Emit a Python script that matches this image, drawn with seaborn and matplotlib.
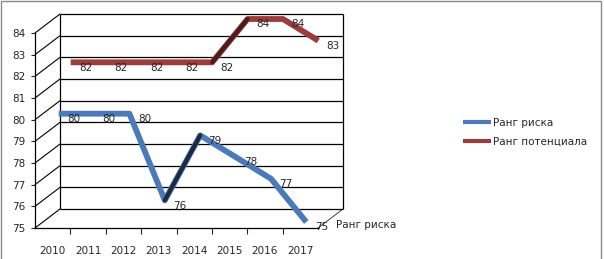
import pandas as pd
import seaborn as sns
from matplotlib import pyplot as plt
from matplotlib.transforms import ScaledTranslation
from matplotlib.patches import Rectangle

years = ['2010', '2011', '2012', '2013', '2014', '2015', '2016', '2017']
risk = [80, 80, 80, 76, 79, 78, 77, 75]
potential = [82, 82, 82, 82, 82, 84, 84, 83]
series_names = ['Ранг риска', 'Ранг потенциала']
depth_label = 'Ранг риска'
y_ticks = list(range(75, 85))

colors = {'Ранг риска': '#4a7ab8', 'Ранг потенциала': '#9b3d3a'}
dark = {'Ранг риска': '#1c2b40', 'Ранг потенциала': '#4b1c1b'}
# pseudo 3d: offset of each ribbon behind the front plane (pixels)
depth_px = {'Ранг риска': (6, 6), 'Ранг потенциала': (18, 14)}
WALL_DX, WALL_DY = 25, 19

df = pd.DataFrame({
    'year': years * 2,
    'value': risk + potential,
    'series': [series_names[0]] * len(years) + [series_names[1]] * len(years),
})

sns.set_style('white')
plt.rcParams['font.family'] = ['DejaVu Sans']
plt.rcParams['font.size'] = 7.5

fig = plt.figure(figsize=(6.04, 2.59), dpi=100)
ax = fig.add_axes([35 / 604, 31 / 259, 283 / 604, 195 / 259])

sns.lineplot(data=df, x='year', y='value', hue='series', hue_order=series_names,
             palette=colors, lw=4.2, sort=False, legend=True, ax=ax,
             solid_capstyle='butt')

ax.set_xlim(-0.5, 7.5)
ax.set_ylim(75, 84)
ax.set_xlabel('')
ax.set_ylabel('')

# back wall + side wall in data units
dx = WALL_DX * 8 / 283
dy = WALL_DY * 9 / 195
ax.hlines([v + dy for v in y_ticks], -0.5 + dx, 7.5 + dx, color='black', lw=0.9,
          clip_on=False, zorder=0)
ax.vlines([-0.5 + dx, 7.5 + dx], 75 + dy, 84 + dy, color='black', lw=0.9,
          clip_on=False, zorder=0)
for v in y_ticks:
    ax.plot([-0.5, -0.5 + dx], [v, v + dy], color='black', lw=0.8,
            clip_on=False, zorder=0)
ax.plot([7.5, 7.5 + dx], [75, 75 + dy], color='black', lw=0.5,
        clip_on=False, zorder=0)

# ribbons pushed back, rising parts drawn as dark thin edges
values = {series_names[0]: risk, series_names[1]: potential}
for line, name in zip(ax.lines[:2], series_names):
    ox, oy = depth_px[name]
    tr = ax.transData + ScaledTranslation(ox / 100, oy / 100, fig.dpi_scale_trans)
    line.set_transform(tr)
    line.set_clip_on(False)
    vals = values[name]
    for i in range(len(vals) - 1):
        if vals[i + 1] > vals[i]:
            ax.plot([i, i + 1], vals[i:i + 2], color=dark[name], lw=3,
                    transform=tr, clip_on=False, zorder=3)
    for i, v in enumerate(vals):
        ax.annotate(str(v), (i, v), xycoords=tr, xytext=(6, -3.8),
                    textcoords='offset points', ha='left', va='center',
                    fontsize=7.5, zorder=4)

sns.despine(ax=ax, top=True, right=True)
for s in ['left', 'bottom']:
    ax.spines[s].set_color('black')
    ax.spines[s].set_linewidth(0.9)

ax.set_yticks(y_ticks)
ax.tick_params(axis='y', left=True, length=3, width=0.8, pad=4, labelsize=7.5)
ax.set_xticks(range(len(years)))
ax.set_xticklabels(years)
ax.set_xticks([i + 0.5 for i in range(len(years) - 1)], minor=True)
ax.tick_params(axis='x', which='major', length=0, pad=13, labelsize=7.5)
ax.tick_params(axis='x', which='minor', bottom=True, length=4, width=0.8)

fig.text(336 / 604, 1 - 225 / 259, depth_label, ha='left', va='center', fontsize=7.5)

leg = ax.legend(loc='center left', bbox_to_anchor=(463 / 604, 1 - 132 / 259),
                bbox_transform=fig.transFigure, frameon=False, borderpad=0,
                borderaxespad=0, handlelength=2.7, handletextpad=0.2,
                labelspacing=0.85, fontsize=7.5)
for h in leg.get_lines():
    h.set_linewidth(3)

fig.patches.append(Rectangle((0.002, -0.1), 0.993, 1.097, transform=fig.transFigure,
                             fill=False, edgecolor='#8a8a8a', lw=1))

fig.savefig('out.png', dpi=100)
